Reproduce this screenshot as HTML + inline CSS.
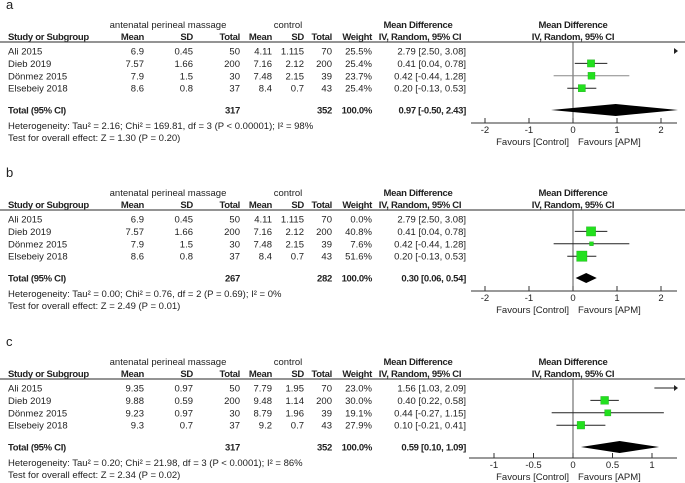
<!DOCTYPE html>
<html><head><meta charset="utf-8"><style>
body{margin:0;background:#fff}
svg{display:block;font-family:"Liberation Sans",Arial,sans-serif}
</style></head><body>
<svg id="chart" width="685" height="483" viewBox="0 0 685 483"></svg>
<script>
const studies=["Ali 2015","Dieb 2019","Dönmez 2015","Elsebeiy 2018"];
const aExpMean=["6.9","7.57","7.9","8.6"],aExpSD=["0.45","1.66","1.5","0.8"],aExpN=["50","200","30","37"];
const aCtlMean=["4.11","7.16","7.48","8.4"],aCtlSD=["1.115","2.12","2.15","0.7"],aCtlN=["70","200","39","43"];
const aWeight=[25.5,25.4,23.7,25.4];
const aMD=[2.79,0.41,0.42,0.20],aLo=[2.50,0.04,-0.44,-0.13],aHi=[3.08,0.78,1.28,0.53];
const aTotal=[0.97,-0.50,2.43];
const bWeight=[0.0,40.8,7.6,51.6];
const bTotal=[0.30,0.06,0.54];
const cExpMean=["9.35","9.88","9.23","9.3"],cExpSD=["0.97","0.59","0.97","0.7"];
const cCtlMean=["7.79","9.48","8.79","9.2"],cCtlSD=["1.95","1.14","1.96","0.7"];
const cWeight=[23.0,30.0,19.1,27.9];
const cMD=[1.56,0.40,0.44,0.10],cLo=[1.03,0.22,-0.27,-0.21],cHi=[2.09,0.58,1.15,0.41];
const cTotal=[0.59,0.10,1.09];
const abTicks=[-2,-1,0,1,2],cTicks=[-1,-0.5,0,0.5,1];

const svg=document.getElementById('chart');const NS='http://www.w3.org/2000/svg';
function el(t,a,txt){const e=document.createElementNS(NS,t);for(const k in a)e.setAttribute(k,a[k]);if(txt!==undefined)e.textContent=txt;svg.appendChild(e);return e;}
function tx(x,y,s,o){o=o||{};const e=el('text',{x:x,y:y,'font-size':o.fs||9.5,'text-anchor':o.a||'start','font-weight':o.b?'bold':'normal',fill:o.c||'#222'},s);if(o.b)e.setAttribute('letter-spacing','-0.3');return e;}
const f2=v=>v.toFixed(2);
function panel(p){
 const o=p.off;
 tx(6,o+9,p.letter,{fs:13,n:'panel-label'});
 tx(168,o+28,'antenatal perineal massage',{a:'middle',n:'group-header-exp'});
 tx(288,o+28,'control',{a:'middle',n:'group-header-ctl'});
 tx(418,o+28,'Mean Difference',{a:'middle',b:1,n:'md-header'});
 tx(573,o+28,'Mean Difference',{a:'middle',b:1,n:'plot-header'});
 const hy=o+40;
 tx(8,hy,'Study or Subgroup',{b:1,n:'col-study'});
 [['Mean',144],['SD',193],['Total',240],['Mean',272],['SD',304],['Total',332],['Weight',372]].forEach(h=>tx(h[1],hy,h[0],{a:'end',b:1,n:'col-header'}));
 tx(420,hy,'IV, Random, 95% CI',{a:'middle',b:1,n:'col-md'});
 tx(573,hy,'IV, Random, 95% CI',{a:'middle',b:1,n:'col-plot'});
 let l=el('line',{x1:0,y1:o+42,x2:685,y2:o+42,stroke:'#555','stroke-width':1.3});
 const X=v=>573+v*p.scale;
 const axY=o+p.axY;
 l=el('line',{x1:573,y1:o+42,x2:573,y2:axY,stroke:'#555'});
 studies.forEach((s,i)=>{
  const y=o+51+i*12.4;
  tx(8,y+3.5,s,{n:'study-name'});
  [[p.em[i],144],[p.es[i],193],[aExpN[i],240],[p.cm[i],272],[p.cs[i],304],[aCtlN[i],332],[p.w[i].toFixed(1)+'%',372]].forEach(c=>tx(c[1],y+3.5,c[0],{a:'end',n:'cell'}));
  tx(466,y+3.5,f2(p.md[i])+' ['+f2(p.lo[i])+', '+f2(p.hi[i])+']',{a:'end',n:'md-ci'});
  if(p.w[i]<=0)return;
  const lo=Math.max(X(p.lo[i]),p.x0),hi=X(p.hi[i]);
  if(hi>677){
   if(X(p.lo[i])<677){l=el('line',{x1:lo,y1:y,x2:674,y2:y,stroke:'#222'});}
   const a=el('polygon',{points:`674,${y-3} 678,${y} 674,${y+3}`,fill:'#222'});
  }else{
   l=el('line',{x1:lo,y1:y,x2:hi,y2:y,stroke:i==2&&p.letter=='a'?'#888':'#222'});
   const sz=1.45*Math.sqrt(p.w[i]);const r=el('rect',{x:X(p.md[i])-sz/2,y:y-sz/2,width:sz,height:sz,fill:'#22e01e',stroke:'#1a9a18','stroke-width':0.3});
  }
 });
 const ty=o+110;
 tx(8,ty+3.5,'Total (95% CI)',{b:1,n:'total-label'});
 tx(240,ty+3.5,p.nE,{a:'end',b:1,n:'total-exp'});
 tx(332,ty+3.5,p.nC,{a:'end',b:1,n:'total-ctl'});
 tx(372,ty+3.5,'100.0%',{a:'end',b:1,n:'total-weight'});
 tx(466,ty+3.5,f2(p.t[0])+' ['+f2(p.t[1])+', '+f2(p.t[2])+']',{a:'end',b:1,n:'total-md'});
 const dh=p.dh;const d=el('polygon',{points:`${X(p.t[1])},${ty} ${X(p.t[0])},${ty-dh} ${Math.min(X(p.t[2]),678)},${ty} ${X(p.t[0])},${ty+dh}`,fill:'#000'});
 tx(8,o+129,p.het,{n:'heterogeneity'});
 tx(8,o+141,p.test,{n:'overall-effect'});
 l=el('line',{x1:p.x0,y1:axY,x2:677,y2:axY,stroke:'#333'});
 p.ticks.forEach(t=>{l=el('line',{x1:X(t),y1:axY-5,x2:X(t),y2:axY,stroke:'#333'});tx(X(t),axY+10,String(t),{a:'middle',n:'x-tick-label'});});
 tx(569,axY+22,'Favours [Control]',{a:'end',n:'favours-left'});
 tx(578,axY+22,'Favours [APM]',{n:'favours-right'});
}
panel({letter:'a',off:0,scale:44,axY:123,x0:471,em:aExpMean,es:aExpSD,cm:aCtlMean,cs:aCtlSD,w:aWeight,md:aMD,lo:aLo,hi:aHi,t:aTotal,nE:'317',nC:'352',dh:6,ticks:abTicks,het:'Heterogeneity: Tau² = 2.16; Chi² = 169.81, df = 3 (P < 0.00001); I² = 98%',test:'Test for overall effect: Z = 1.30 (P = 0.20)'});
panel({letter:'b',off:168,scale:44,axY:123,x0:471,em:aExpMean,es:aExpSD,cm:aCtlMean,cs:aCtlSD,w:bWeight,md:aMD,lo:aLo,hi:aHi,t:bTotal,nE:'267',nC:'282',dh:5,ticks:abTicks,het:'Heterogeneity: Tau² = 0.00; Chi² = 0.76, df = 2 (P = 0.69); I² = 0%',test:'Test for overall effect: Z = 2.49 (P = 0.01)'});
panel({letter:'c',off:337,scale:79,axY:121,x0:469,em:cExpMean,es:cExpSD,cm:cCtlMean,cs:cCtlSD,w:cWeight,md:cMD,lo:cLo,hi:cHi,t:cTotal,nE:'317',nC:'352',dh:6,ticks:cTicks,het:'Heterogeneity: Tau² = 0.20; Chi² = 21.98, df = 3 (P < 0.0001); I² = 86%',test:'Test for overall effect: Z = 2.34 (P = 0.02)'});
</script>
</body></html>
